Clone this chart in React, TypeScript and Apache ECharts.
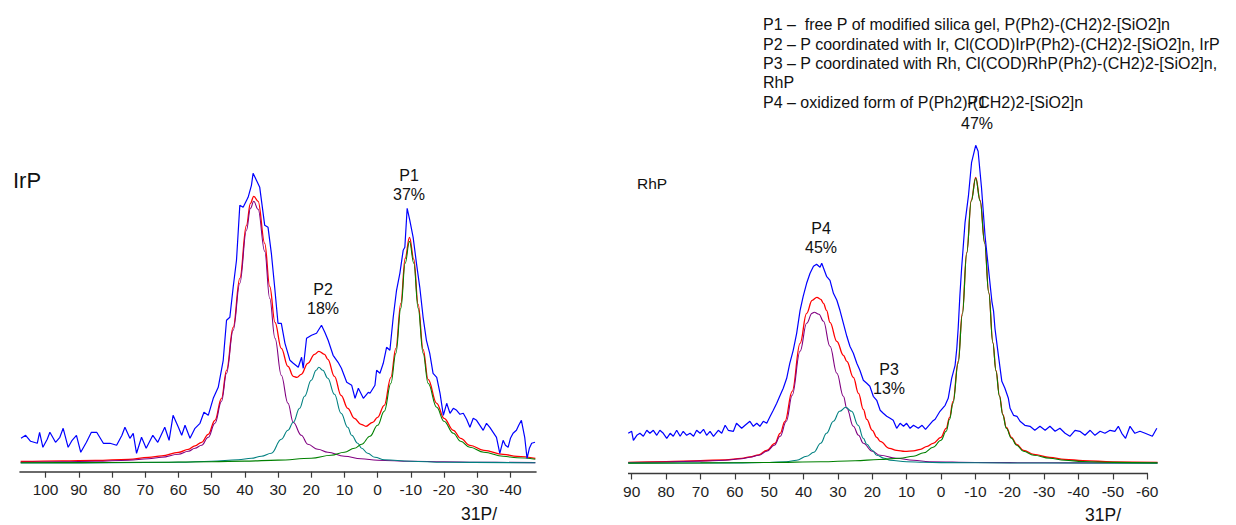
import React, { useEffect, useRef } from "react";
import * as echarts from "echarts";

// ---------- IrP panel (left) : [chemical shift ppm, intensity] ----------
const irpExperimental = [
  [107.4, 25], [106, 28], [104.5, 22], [102.5, 20], [101.8, 31], [100.8, 16], [99.5, 24], [98.7, 31], [97, 21],
  [95.7, 26], [94.7, 35], [93.2, 16], [92, 23], [90.7, 28], [89.4, 11], [87.7, 21], [86.2, 31], [84.6, 31],
  [82.6, 20], [80.6, 20], [78.6, 18], [77, 28], [76.1, 36], [74.6, 25], [73.6, 30], [72.6, 10], [71.1, 26],
  [69.7, 15], [67.7, 28], [66.2, 21], [64.1, 36], [62.8, 23], [61.6, 48], [60, 36], [59, 28], [58, 38],
  [56.5, 25], [55, 35], [53.5, 40], [52.3, 51], [51, 48], [49.5, 65], [48, 76], [46.5, 103], [45.5, 143],
  [44.5, 146], [43.5, 176], [42.5, 203], [41.5, 258], [40.5, 256], [39, 266], [38, 278], [37.5, 290],
  [36.5, 283], [35.5, 276], [34, 238], [33, 236], [32, 210], [31, 176], [30, 140], [29, 140], [27.9, 120],
  [26.4, 103], [25.4, 100], [23.9, 96], [22.9, 106], [22.4, 95], [21.4, 125], [19.9, 128], [18.4, 130],
  [16.9, 138], [15.9, 131], [14.9, 123], [13.4, 108], [11.9, 101], [10.9, 95], [9.3, 81], [7.8, 78],
  [6.8, 65], [5.8, 75], [4.3, 65], [2.8, 71], [2.3, 70], [0.8, 78], [0.3, 93], [-0.7, 90], [-1.7, 100],
  [-2.7, 116], [-3.7, 113], [-4.7, 146], [-5.7, 173], [-6.7, 190], [-7.7, 213], [-8.2, 216], [-8.9, 255],
  [-9.7, 243], [-10.7, 226], [-11.7, 200], [-12.7, 176], [-13.7, 146], [-14.7, 123], [-15.7, 110],
  [-16.7, 90], [-17.8, 86], [-18.8, 70], [-19.8, 48], [-20.8, 60], [-21.8, 50], [-22.8, 55], [-23.8, 53],
  [-24.8, 49], [-25.8, 50], [-26.8, 44], [-27.8, 36], [-28.8, 45], [-29.8, 43], [-30.8, 38], [-31.8, 33],
  [-32.8, 40], [-33.8, 36], [-34.8, 31], [-35.8, 26], [-36.8, 10], [-37.8, 23], [-38.5, 18], [-39.3, 16],
  [-40, 25], [-40.8, 30], [-41.8, 33], [-42.5, 38], [-43.3, 43], [-44.3, 26], [-45, 5], [-45.7, 15],
  [-46.4, 20], [-47.4, 21],
];
const irpFit = [
  [107.5, 1.8], [95, 2.5], [85, 3], [75, 4], [69, 6], [65, 7.5], [60, 11], [57, 14], [55, 17.5], [53, 21],
  [51, 29], [49, 43], [47, 65], [45.5, 93], [43.5, 136], [41.5, 185], [39.5, 238], [38.3, 260], [37.3, 267],
  [36, 262], [34, 220], [32.5, 177], [30.9, 141], [29, 115], [27, 97], [25.4, 87], [24.3, 86], [23, 89], [21, 100],
  [19, 109], [17.7, 112], [16, 109], [15, 104], [13, 87], [11, 68], [9, 55], [7, 45], [5, 39], [3.5, 37],
  [1.5, 41], [0, 46], [-2, 58], [-4, 86], [-5.5, 115], [-7, 160], [-8.3, 205], [-9.6, 226], [-10.9, 204],
  [-12.2, 159], [-13.7, 114], [-15.2, 84], [-17.8, 60], [-20, 45], [-22.8, 33], [-25, 25], [-27.8, 18],
  [-32, 13], [-37.8, 9], [-42, 7], [-47.5, 5],
];
const irpPeakP4 = [
  [107.5, 1], [95, 1.5], [85, 2], [75, 3], [69, 4.5], [65, 6], [60, 9], [57, 12], [55, 15], [53, 18], [51, 26],
  [49, 40], [47, 62], [45.5, 90], [43.5, 133], [41.5, 180], [39.5, 233], [38.3, 255], [37.3, 262], [36, 254],
  [34, 212], [32.5, 165], [30.9, 125], [29, 88], [27, 60], [25.4, 41], [23, 28], [21, 19], [18, 14], [15, 11],
  [10, 7], [5, 4.5], [0, 3], [-10, 2], [-20, 1.5], [-30, 1], [-47.5, 0.7],
];
const irpPeakP2 = [
  [107.5, 0.3], [80, 0.5], [60, 1], [50, 2], [42, 3.5], [38, 5], [35, 7], [32, 10], [29, 24], [27, 33],
  [25.4, 41], [23.5, 55], [22, 67], [20, 83], [18.5, 93], [17.7, 96], [16.5, 93], [15, 85], [13, 69], [11, 50],
  [9, 36], [7.8, 28], [6, 20], [4.8, 15], [3, 10], [0.8, 6], [-2, 3.5], [-10, 2], [-20, 1], [-47.5, 0.5],
];
const irpPeakP1 = [
  [107.5, 0.5], [90, 0.7], [70, 1], [50, 1.6], [40, 2.2], [30, 3.2], [20, 5], [14, 8], [10, 11], [7, 15],
  [4.8, 19], [2.3, 27], [0, 38], [-2, 52], [-4, 80], [-5.5, 110], [-7, 155], [-8.3, 200], [-9.6, 222],
  [-10.9, 200], [-12.2, 155], [-13.7, 110], [-15.2, 80], [-17.8, 56], [-20, 42], [-22.8, 30], [-25, 22],
  [-27.8, 16], [-32, 11], [-37.8, 7], [-42, 5.5], [-47.5, 4],
];

// ---------- RhP panel (right) ----------
const rhpExperimental = [
  [91, 30], [90, 32], [89.5, 23], [88.5, 28], [87.6, 30], [86.6, 27], [85.6, 33], [84.7, 30], [83.7, 33],
  [82.7, 28], [81.8, 33], [80.8, 30], [79.8, 25], [78.8, 30], [77.9, 27], [76.9, 33], [75.9, 27], [75, 32],
  [74, 28], [73, 30], [72, 27], [71.1, 33], [70.1, 30], [69.1, 34], [68.2, 28], [67.2, 32], [66.2, 27],
  [64.8, 33], [63.8, 30], [62.8, 38], [61.9, 33], [60.4, 32], [59.5, 40], [58, 35], [57, 38], [55.6, 42],
  [54.6, 37], [53.6, 40], [52.7, 37], [51.7, 42], [50.7, 40], [49.7, 47], [48.8, 53], [47.8, 60], [46.8, 68],
  [45.9, 75], [44.9, 85], [44, 100], [43, 113], [42, 130], [41, 153], [40.1, 167], [39.1, 180], [38.1, 190],
  [37.1, 197], [36.2, 199], [35.2, 196], [34.7, 200], [33.3, 187], [32.3, 183], [31.3, 170], [30.3, 163],
  [29.4, 153], [28.4, 140], [27.4, 127], [26.5, 117], [25.5, 110], [24.5, 100], [23.6, 93], [22.6, 83],
  [21.6, 80], [20.7, 77], [19.7, 67], [18.7, 63], [17.7, 53], [16.8, 50], [15.8, 47], [14.8, 45], [13.9, 43],
  [12.9, 35], [11.9, 40], [10.9, 37], [10, 40], [9, 35], [8, 38], [6.6, 35], [5.5, 38], [4.5, 34], [3.5, 38],
  [2.5, 42], [1.7, 44], [0.3, 52], [-1.2, 58], [-2.1, 65], [-3.1, 85], [-4.1, 98], [-4.6, 115], [-5, 135],
  [-5.5, 168], [-6, 195], [-7, 241], [-8, 268], [-8.9, 301], [-10.1, 318], [-10.8, 312], [-11.8, 275],
  [-12.8, 228], [-13.8, 195], [-14.8, 162], [-15.3, 152], [-15.7, 135], [-16.7, 108], [-17.7, 82], [-18.6, 75],
  [-19.6, 65], [-20.1, 55], [-21.1, 48], [-22.1, 47], [-23, 42], [-24.4, 38], [-25.9, 37], [-27.3, 33],
  [-28.8, 37], [-30.3, 33], [-31.7, 37], [-33.2, 32], [-34.6, 35], [-36.1, 30], [-37.5, 27], [-39, 33],
  [-40.4, 32], [-41.9, 28], [-43.4, 33], [-44.8, 28], [-46.3, 32], [-47.7, 30], [-49.2, 33], [-50.6, 32],
  [-51.6, 37], [-52.6, 30], [-53.7, 25], [-55, 37], [-56.4, 30], [-57.9, 32], [-59.4, 30], [-60.8, 28],
  [-61.5, 27], [-62.8, 35],
];
const rhpFit = [
  [91, 1], [80, 1.6], [70, 2.6], [62.8, 3.5], [58, 5], [55.6, 6.5], [53, 8.5], [50.7, 13], [48.3, 20],
  [46.8, 30], [45.4, 42], [43.3, 72], [41, 120], [39.1, 150], [37.5, 163], [36.1, 166], [35, 164], [34.2, 160],
  [33.3, 153], [32.3, 141], [30.3, 122], [28.4, 108], [27.4, 102], [25.5, 86], [24, 70], [22.6, 54], [21.6, 44],
  [20, 33], [18.7, 26], [17.7, 22], [15, 15], [12.9, 13], [10.5, 12], [8, 12.5], [6, 14], [4, 17], [2.3, 20],
  [0, 26], [-1.5, 35], [-2.5, 46], [-3.5, 62], [-5, 102], [-6.2, 150], [-7.5, 211], [-8.8, 263], [-10.1, 286],
  [-11.4, 263], [-12.7, 221], [-13.9, 171], [-15.1, 121], [-16, 93], [-17, 68], [-18, 49], [-19, 36],
  [-20.5, 26], [-22, 19], [-24, 13], [-27, 9], [-31.6, 6], [-36, 4], [-41.3, 2.6], [-50, 1.5], [-63, 0.9],
];
const rhpPeakP4 = [
  [91, 0.8], [80, 1.3], [70, 2.2], [62.8, 3], [58, 4.5], [55.6, 6], [53, 8], [50.7, 12], [48.5, 18], [46.8, 27],
  [45, 42], [43.3, 68], [41, 112], [39.1, 140], [37.5, 150], [36.9, 151], [35.5, 149], [34.2, 142], [32.3, 117],
  [30.3, 90], [28.4, 67], [27.4, 55], [25.5, 37], [24, 28], [22.6, 20], [20, 12], [17.7, 8], [13, 5], [8, 3],
  [3.4, 1.5], [-10, 0.8], [-30, 0.5], [-63, 0.3],
];
const rhpPeakP3 = [
  [91, 0.2], [60, 0.4], [50, 0.8], [45, 1.5], [42, 3], [39.1, 7], [37, 11], [35, 20], [33.3, 30], [31.3, 42],
  [29.5, 52], [27.7, 56], [26, 52], [24.1, 38], [22.6, 25], [21.6, 19], [20, 13], [18.7, 8], [16.5, 5],
  [14.8, 3], [10, 1.5], [5, 1], [0, 0.7], [-20, 0.3], [-63, 0.1],
];
const rhpPeakP1 = [
  [91, 0.2], [70, 0.4], [50, 0.8], [35, 1.5], [25, 2.5], [18, 3.8], [12, 5], [8, 7], [5, 10.5], [2.3, 16],
  [0, 23], [-1.5, 32], [-2.5, 44], [-3.5, 60], [-5, 100], [-6.2, 148], [-7.5, 210], [-8.8, 262], [-10.1, 285],
  [-11.4, 262], [-12.7, 220], [-13.9, 170], [-15.1, 120], [-16, 92], [-17, 67], [-18, 48], [-19, 35],
  [-20.5, 25], [-22, 18], [-24, 12], [-27, 8], [-31.6, 5], [-36, 3], [-41.3, 1.8], [-50, 0.9], [-63, 0.4],
];

// ---------- axis ticks ----------
const irpTicks = [100, 90, 80, 70, 60, 50, 40, 30, 20, 10, 0, -10, -20, -30, -40];
const rhpTicks = [90, 80, 70, 60, 50, 40, 30, 20, 10, 0, -10, -20, -30, -40, -50, -60];

// ---------- texts ----------
const legendLines = [
  "P1 –  free P of modified silica gel, P(Ph2)-(CH2)2-[SiO2]n",
  "P2 – P coordinated with Ir, Cl(COD)IrP(Ph2)-(CH2)2-[SiO2]n, IrP",
  "P3 – P coordinated with Rh, Cl(COD)RhP(Ph2)-(CH2)2-[SiO2]n,",
  "RhP",
  "P4 – oxidized form of P(Ph2)-(CH2)2-[SiO2]n",
];
const axisTitle = "31P/";

const FONT = '"Liberation Sans", Arial, Helvetica, sans-serif';
const BLUE = "#0000ff";
const RED = "#ff0000";
const PURPLE = "#800080";
const TEAL = "#008080";
const GREEN = "#008000";
const AXIS_COLOR = "#3a3a3a";

function lineSeries(idx: number, data: number[][], color: string, width: number, z: number, smooth: boolean) {
  return {
    type: "line",
    xAxisIndex: idx,
    yAxisIndex: idx,
    data,
    symbol: "none",
    showSymbol: false,
    smooth: smooth ? 0.4 : false,
    smoothMonotone: smooth ? "x" : undefined,
    lineStyle: { color, width },
    z,
    silent: true,
  };
}

function xAxisDef(idx: number, min: number, max: number, ticks: number[], showLine: boolean) {
  return {
    type: "value",
    gridIndex: idx,
    inverse: true,
    min,
    max,
    splitLine: { show: false },
    axisLine: { show: showLine, onZero: false, lineStyle: { color: AXIS_COLOR, width: 1.6 } },
    axisTick: { show: true, inside: false, length: 6, customValues: ticks, lineStyle: { color: AXIS_COLOR, width: 1.2 } },
    axisLabel: {
      show: true,
      customValues: ticks,
      margin: 10,
      color: "#1e1e1e",
      fontSize: 15.5,
      fontFamily: FONT,
    },
  };
}

function txt(text: string, x: number, y: number, size: number, align: string = "center") {
  return {
    type: "text",
    x,
    y,
    silent: true,
    style: {
      text,
      font: `${size}px ${FONT}`,
      fill: "#111",
      align,
      textAlign: align,
      verticalAlign: "middle",
      textVerticalAlign: "middle",
    },
  };
}

export default function App() {
  const ref = useRef<HTMLDivElement>(null);
  useEffect(() => {
    if (!ref.current) return;
    const chart = echarts.init(ref.current, null, { renderer: "svg" });
    const graphics: any[] = [
      txt("IrP", 13, 180, 22, "left"),
      txt("P1", 409, 175.5, 16),
      txt("37%", 409, 194, 16),
      txt("P2", 323, 289.5, 16),
      txt("18%", 323, 308, 16),
      txt("RhP", 637, 183, 15.5, "left"),
      txt("P4", 821, 228, 16),
      txt("45%", 821, 247, 16),
      txt("P3", 889, 369, 16),
      txt("13%", 889, 388, 16),
      txt(axisTitle, 461, 514, 17.5, "left"),
      txt(axisTitle, 1085, 514.5, 17.5, "left"),
      {
        type: "line",
        silent: true,
        shape: { x1: 628, y1: 473.5, x2: 1148, y2: 473.5 },
        style: { stroke: AXIS_COLOR, lineWidth: 1.6 },
      },
    ];
    const legendY = [24, 44, 63.5, 82.5, 102];
    legendLines.forEach((line, i) => graphics.push(txt(line, 763, legendY[i], 16, "left")));
    graphics.push(txt("P1", 977, 102, 16));
    graphics.push(txt("47%", 977, 123, 16));

    chart.setOption({
      animation: false,
      backgroundColor: "#ffffff",
      grid: [
        { left: 20, width: 516, top: 160, height: 311.7 },
        { left: 628, width: 530, top: 140, height: 333.5 },
      ],
      xAxis: [xAxisDef(0, -47.7, 107.7, irpTicks, true), xAxisDef(1, -63.14, 91.07, rhpTicks, false)],
      yAxis: [
        { type: "value", gridIndex: 0, min: -8.4, max: 303.3, show: false },
        { type: "value", gridIndex: 1, min: -10.2, max: 323.3, show: false },
      ],
      series: [
        lineSeries(0, irpFit, RED, 1.3, 2, true),
        lineSeries(0, irpPeakP4, PURPLE, 1.1, 3, true),
        lineSeries(0, irpPeakP2, TEAL, 1.1, 3, true),
        lineSeries(0, irpPeakP1, GREEN, 1.1, 4, true),
        lineSeries(0, irpExperimental, BLUE, 1.2, 5, false),
        lineSeries(1, rhpFit, RED, 1.3, 2, true),
        lineSeries(1, rhpPeakP4, PURPLE, 1.1, 3, true),
        lineSeries(1, rhpPeakP3, TEAL, 1.1, 3, true),
        lineSeries(1, rhpPeakP1, GREEN, 1.1, 4, true),
        lineSeries(1, rhpExperimental, BLUE, 1.2, 5, false),
      ],
      graphic: graphics,
    });
    return () => chart.dispose();
  }, []);
  return (
    <div
      ref={ref}
      style={{ position: "fixed", left: 0, top: 0, width: 1236, height: 525, background: "#fff" }}
    />
  );
}
